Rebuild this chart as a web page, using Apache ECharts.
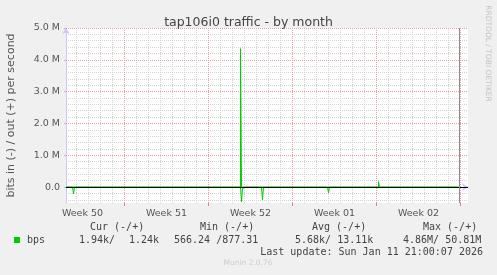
<!DOCTYPE html>
<html><head><meta charset="utf-8">
<script src="https://cdn.jsdelivr.net/npm/echarts@6/dist/echarts.min.js"></script>
<style>html,body{margin:0;padding:0;background:#f0f0f0}#c{width:497px;height:275px}</style>
</head><body><div id="c"></div><script>
// ---- text ----
const chartTitle = 'tap106i0 traffic - by month';
const yAxisName = 'bits in (-) / out (+) per second';
const weekLabels = ['Week 50', 'Week 51', 'Week 52', 'Week 01', 'Week 02'];
const legendHeaders = ['Cur (-/+)', 'Min (-/+)', 'Avg (-/+)', 'Max (-/+)'];
const legendName = 'bps';
const legendValues = ['1.94k/', '1.24k', '566.24 /877.31', '5.68k/ 13.11k', '4.86M/ 50.81M'];
const lastUpdate = 'Last update: Sun Jan 11 21:00:07 2026';
const sideText = 'RRDTOOL / TOBI OETIKER';
const footer = 'Munin 2.0.76';

// ---- axes (x in days since Mon 2025-12-08 00:00) ----
const viewStart = 2.125, viewEnd = 35.625, nowDay = 34.875;
const weekMids = [3.5, 10.5, 17.5, 24.5, 31.5];
const weekLines = [7, 14, 21, 28, 35];
const dayLines = [3,4,5,6,8,9,10,11,12,13,15,16,17,18,19,20,22,23,24,25,26,27,29,30,31,32,33,34];
const yMin = -500000, yMax = 5000000;
const yTicks = [0, 1000000, 2000000, 3000000, 4000000, 5000000];
const yMinor = [-400000,-200000,200000,400000,600000,800000,1200000,1400000,1600000,1800000,2200000,2400000,2600000,2800000,3200000,3400000,3600000,3800000,4200000,4400000,4600000,4800000];

// ---- data: 2-hour samples (sample index k -> day k/12, bits/s) ----
const outSample = [26, 170, 171, 172, 200, 201, 202, 338, 339, 340, 379, 380, 381, 418];
const outBps    = [0, 0, 30000, 0, 0, 4350000, 0, 0, 170000, 0, 0, 25000, 0, 0];
const inSample  = [26, 32, 33, 34, 200, 201, 202, 204, 205, 221, 222, 223, 287, 288, 289, 418];
const inBps     = [0, 0, 210000, 0, 0, 470000, 50000, 50000, 0, 0, 400000, 0, 0, 180000, 0, 0];

const green = '#00cc00';
const minorStyle = {color: '#d2d2d2', width: 1, type: [1, 1]};
const majorStyle = {color: '#eea0a0', width: 1, type: [1, 1]};
const font = 'DejaVu Sans';
const mono = 'DejaVu Sans Mono';

const gridMarks = []
  .concat(dayLines.map(d => ({xAxis: d, lineStyle: minorStyle})))
  .concat(yMinor.map(v => ({yAxis: v, lineStyle: minorStyle})))
  .concat(weekLines.map(d => ({xAxis: d, lineStyle: majorStyle})))
  .concat(yTicks.filter(v => v !== 0).map(v => ({yAxis: v, lineStyle: majorStyle})));

const chart = echarts.init(document.getElementById('c'), null, {renderer: 'canvas'});
chart.setOption({
  animation: false,
  backgroundColor: '#f0f0f0',
  title: {text: chartTitle, left: 'center', top: 11,
    textStyle: {fontFamily: font, fontSize: 12.5, fontWeight: 'normal', color: '#444'}},
  grid: {left: 66, right: 29, top: 28, bottom: 72, show: true, backgroundColor: '#ffffff', borderWidth: 0,
    containLabel: false, outerBoundsMode: 'none'},
  xAxis: [{
    type: 'value', min: viewStart, max: viewEnd,
    axisLine: {show: true, lineStyle: {color: '#c8c8ff'}, symbol: ['none', 'arrow'], symbolSize: [6, 6]},
    splitLine: {show: false},
    axisTick: {show: true, customValues: dayLines, length: 2, lineStyle: {color: '#bbbbbb'}},
    axisLabel: {customValues: weekMids, margin: 6, color: '#555', fontFamily: font, fontSize: 9.5,
      formatter: v => { const i = weekMids.findIndex(m => Math.abs(m - v) < 0.01); return i >= 0 ? weekLabels[i] : ''; }}
  }, {
    type: 'value', min: viewStart, max: viewEnd, position: 'bottom',
    axisLine: {show: false}, splitLine: {show: false}, axisLabel: {show: false},
    axisTick: {show: true, customValues: weekLines, length: 3, lineStyle: {color: '#e08080'}}
  }],
  yAxis: {
    type: 'value', min: yMin, max: yMax,
    name: yAxisName, nameLocation: 'middle', nameGap: 49, nameRotate: 90,
    nameTextStyle: {fontFamily: font, fontSize: 11, color: '#555'},
    axisLine: {show: true, lineStyle: {color: '#c8c8ff'}, symbol: ['none', 'arrow'], symbolSize: [6, 6]},
    splitLine: {show: false},
    axisTick: {show: true, customValues: yTicks, length: 2, lineStyle: {color: '#bbbbbb'}},
    axisLabel: {customValues: yTicks, margin: 6, color: '#555', fontFamily: font, fontSize: 9.5,
      formatter: v => v === 0 ? '0.0' : (v / 1e6).toFixed(1) + ' M'}
  },
  series: [
    {type: 'line', z: 1, data: [[viewStart, 0]], symbol: 'none', lineStyle: {opacity: 0}, silent: true,
      markLine: {z: 1, silent: true, symbol: ['none', 'none'], label: {show: false}, animation: false, data: gridMarks}},
    {type: 'line', z: 3, name: 'out', step: 'start', data: outSample.map((k, i) => [k / 12, outBps[i]]), symbol: 'none',
      lineStyle: {color: green, width: 1}, silent: true},
    {type: 'line', z: 3, name: 'in', data: inSample.map((k, i) => [k / 12, -inBps[i]]), symbol: 'none',
      lineStyle: {color: green, width: 1}, silent: true},
    {type: 'line', z: 6, data: [[viewStart, 0]], symbol: 'none', lineStyle: {opacity: 0}, silent: true,
      markLine: {z: 6, silent: true, symbol: ['none', 'none'], label: {show: false}, animation: false,
        data: [{yAxis: 0, lineStyle: {color: '#000', width: 1, type: 'solid'}},
               {xAxis: nowDay, lineStyle: {color: '#8c8c8c', width: 1, type: 'solid'}}]}}
  ],
  graphic: [
    {type: 'text', x: 487.5, y: 53.5, rotation: -Math.PI / 2,
      style: {text: sideText, fontFamily: font, fontSize: 7.5, fill: '#c4c4c4', align: 'center', verticalAlign: 'middle'}},
    {type: 'text', x: 90, y: 227, style: {text: legendHeaders[0], fontFamily: mono, fontSize: 10, fill: '#444', verticalAlign: 'middle'}},
    {type: 'text', x: 200, y: 227, style: {text: legendHeaders[1], fontFamily: mono, fontSize: 10, fill: '#444', verticalAlign: 'middle'}},
    {type: 'text', x: 312, y: 227, style: {text: legendHeaders[2], fontFamily: mono, fontSize: 10, fill: '#444', verticalAlign: 'middle'}},
    {type: 'text', x: 423, y: 227, style: {text: legendHeaders[3], fontFamily: mono, fontSize: 10, fill: '#444', verticalAlign: 'middle'}},
    {type: 'rect', shape: {x: 14, y: 237, width: 6, height: 6}, style: {fill: green}},
    {type: 'text', x: 27, y: 240, style: {text: legendName, fontFamily: mono, fontSize: 10, fill: '#444', verticalAlign: 'middle'}},
    {type: 'text', x: 79, y: 240, style: {text: legendValues[0], fontFamily: mono, fontSize: 10, fill: '#444', verticalAlign: 'middle'}},
    {type: 'text', x: 129, y: 240, style: {text: legendValues[1], fontFamily: mono, fontSize: 10, fill: '#444', verticalAlign: 'middle'}},
    {type: 'text', x: 174, y: 240, style: {text: legendValues[2], fontFamily: mono, fontSize: 10, fill: '#444', verticalAlign: 'middle'}},
    {type: 'text', x: 295, y: 240, style: {text: legendValues[3], fontFamily: mono, fontSize: 10, fill: '#444', verticalAlign: 'middle'}},
    {type: 'text', x: 403, y: 240, style: {text: legendValues[4], fontFamily: mono, fontSize: 10, fill: '#444', verticalAlign: 'middle'}},
    {type: 'text', x: 483, y: 252, style: {text: lastUpdate, fontFamily: mono, fontSize: 10, fill: '#444', align: 'right', verticalAlign: 'middle'}},
    {type: 'text', x: 248, y: 263, style: {text: footer, fontFamily: font, fontSize: 7.5, fill: '#cccccc', align: 'center', verticalAlign: 'middle'}}
  ]
});
</script></body></html>
